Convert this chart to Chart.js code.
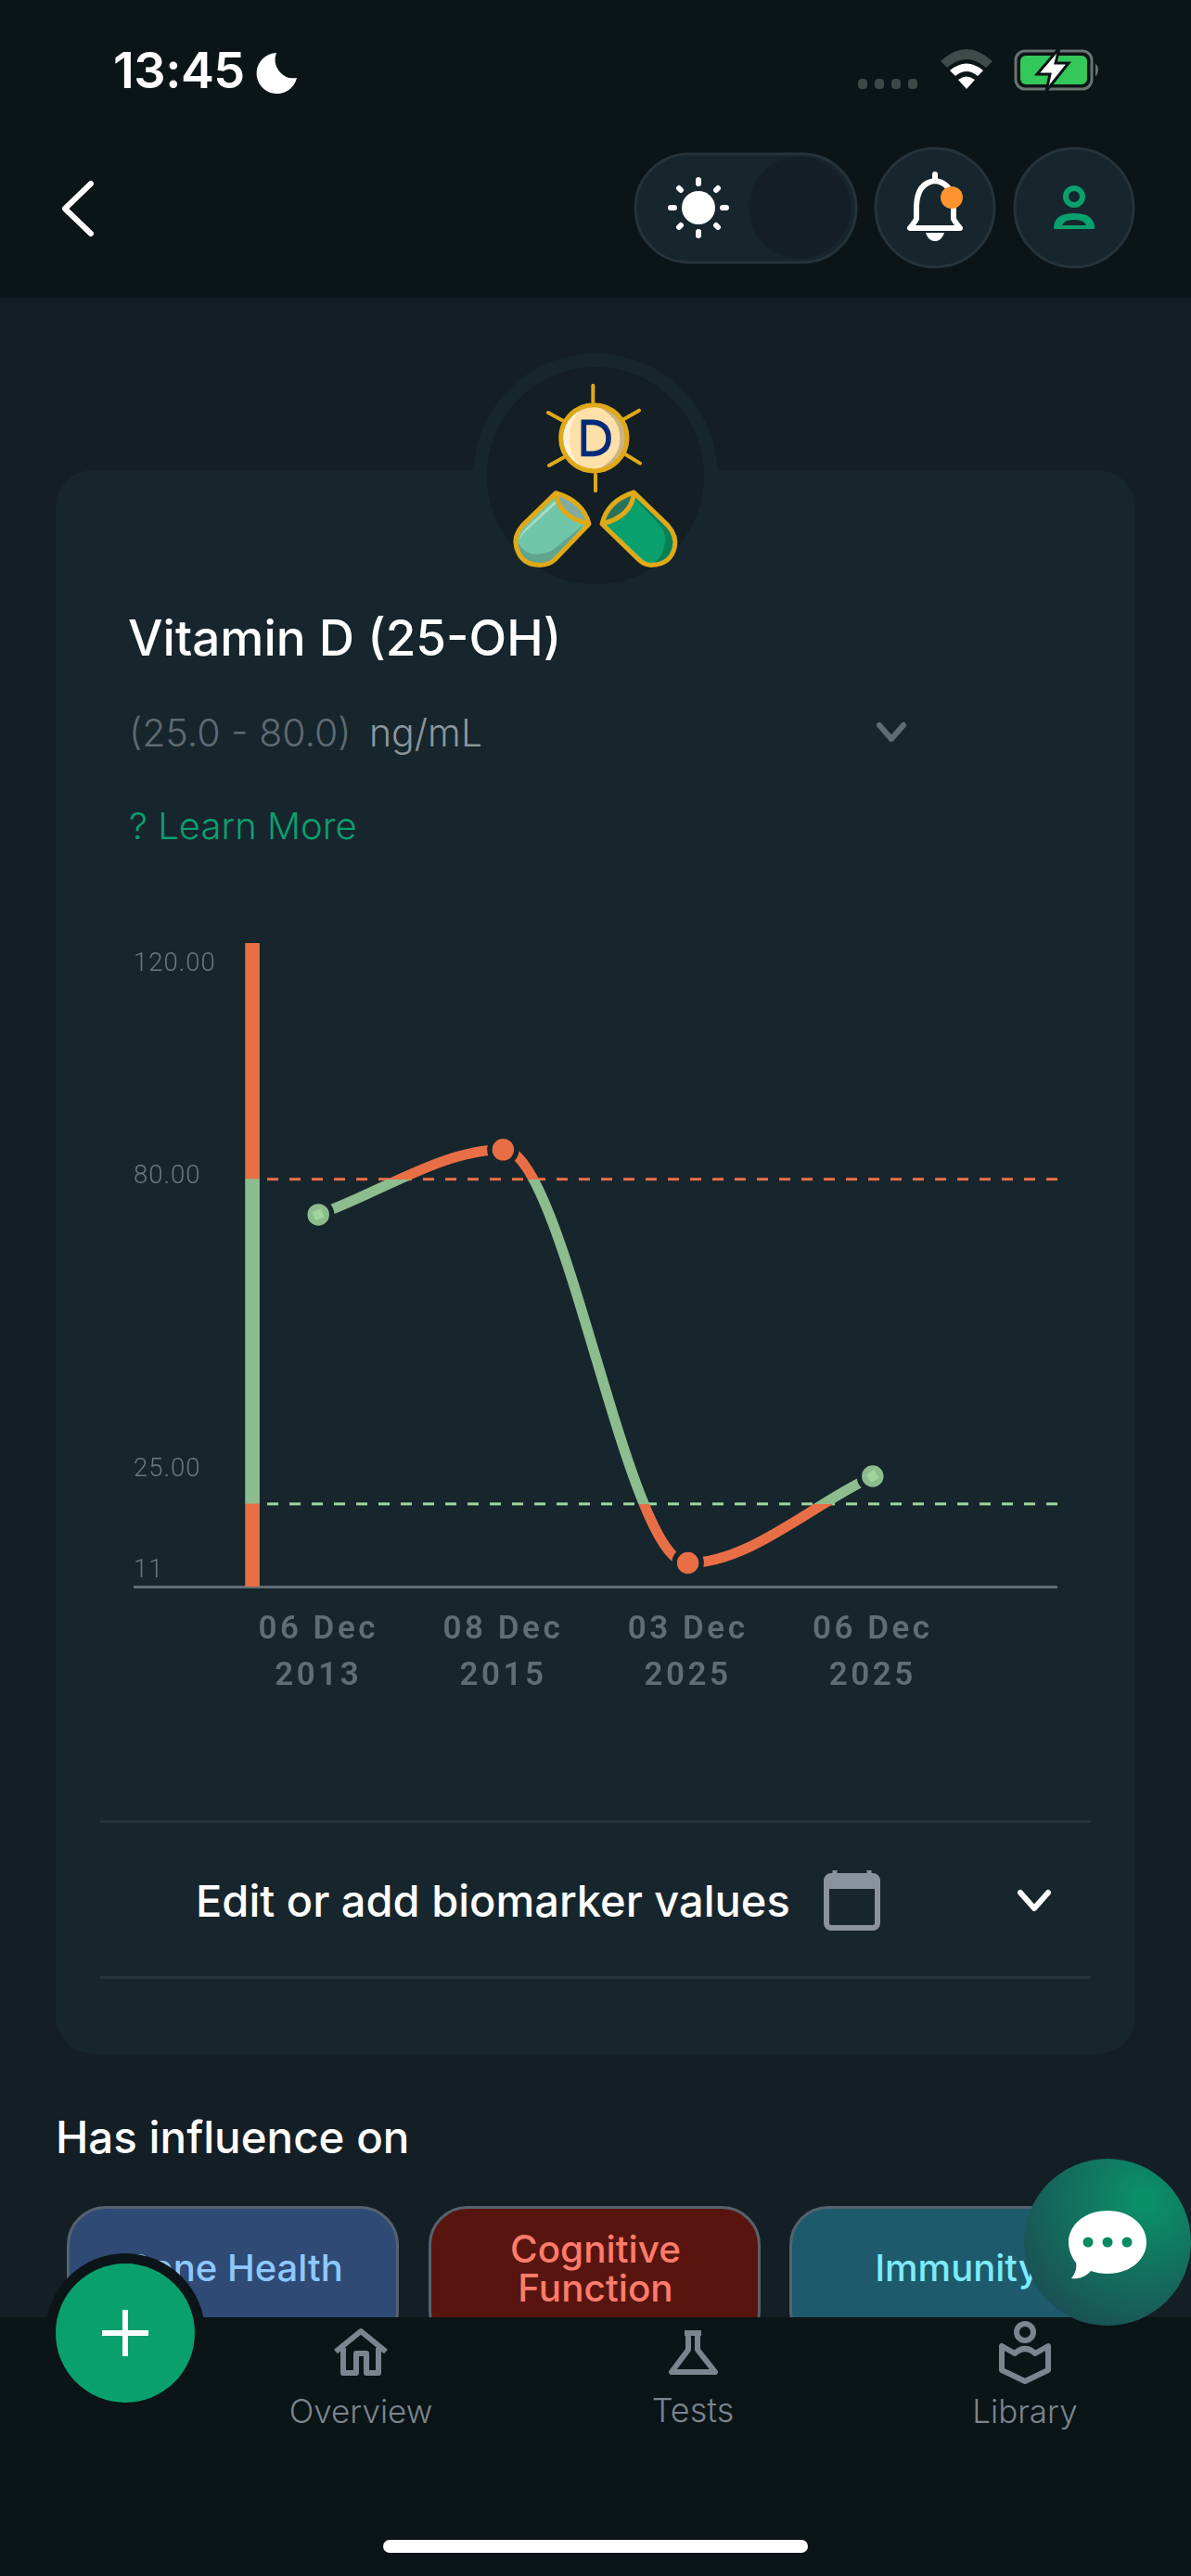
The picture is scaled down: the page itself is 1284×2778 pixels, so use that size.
<!DOCTYPE html>
<html>
<head>
<meta charset="utf-8">
<script src="https://cdn.jsdelivr.net/npm/chart.js@4"></script>
<style>
html,body{margin:0;padding:0;background:#131e25;width:1284px;height:2778px;overflow:hidden;font-family:Inter,sans-serif;}
.a{position:absolute;}
.t{position:absolute;white-space:nowrap;transform:translateY(-50%);line-height:1.2;}
.c{transform:translate(-50%,-50%);text-align:center;}
#wrap{position:absolute;left:144px;top:1000px;width:996px;height:840px;}
.chip{position:absolute;top:2379px;width:352px;height:150px;border-radius:42px;border:3px solid #56626e;}
</style>
</head>
<body>
<!-- header -->
<div class="a" style="left:0;top:0;width:1284px;height:321px;background:#0b1416"></div>
<div class="t" style="left:122px;top:76px;font-size:54px;font-weight:600;color:#fff;letter-spacing:-.5px">13:45</div>
<!-- card -->
<div class="a" style="left:60px;top:507px;width:1164px;height:1708px;border-radius:40px;background:#17252d"></div>
<div class="a" style="left:510px;top:381px;width:264px;height:264px;border-radius:50%;background:#17252d"></div>
<div class="a" style="left:525px;top:396px;width:234px;height:234px;border-radius:50%;background:#131e25"></div>
<!-- card text -->
<div class="t" style="left:138px;top:689px;font-size:53px;font-weight:500;color:#fff">Vitamin D (25-OH)</div>
<div class="t" style="left:139px;top:791px;font-size:41px;font-weight:300;color:#5f6b72">(25.0 - 80.0)</div>
<div class="t" style="left:398px;top:791px;font-size:41px;font-weight:300;color:#8d969c">ng/mL</div>
<div class="t" style="left:139px;top:891px;font-size:40px;font-weight:300;color:#0aa06e">? Learn More</div>
<div class="a" style="left:108px;top:1963px;width:1068px;height:3px;background:#25333b"></div>
<div class="a" style="left:108px;top:2131px;width:1068px;height:3px;background:#25333b"></div>
<div class="t" style="left:211px;top:2050px;font-size:47px;font-weight:500;color:#fff">Edit or add biomarker values</div>
<div class="t" style="left:60px;top:2304px;font-size:47.5px;font-weight:500;color:#fff">Has influence on</div>
<!-- chips -->
<div class="chip" style="left:72px;background:#2e4a75"></div>
<div class="chip" style="left:462px;background:#58150f"></div>
<div class="chip" style="left:851px;background:#1d5a6b"></div>
<div class="t c" style="left:253px;top:2446px;font-size:40px;font-weight:500;color:#8ec8ff">Bone Health</div>
<div class="t c" style="left:642px;top:2447px;font-size:40.5px;font-weight:500;color:#ff7b6b;line-height:42px">Cognitive<br>Function</div>
<div class="t c" style="left:1032px;top:2446px;font-size:40px;font-weight:500;color:#7eeaff">Immunity</div>
<!-- bottom nav -->
<div class="a" style="left:0;top:2499px;width:1284px;height:279px;background:#0b1416"></div>
<div class="t c" style="left:389px;top:2600px;font-size:35px;font-weight:300;color:#7c858f">Overview</div>
<div class="t c" style="left:747px;top:2600px;font-size:36px;font-weight:300;color:#7c858f">Tests</div>
<div class="t c" style="left:1105px;top:2600px;font-size:35px;font-weight:300;color:#7c858f">Library</div>
<div class="a" style="left:413px;top:2739px;width:458px;height:14px;border-radius:7px;background:#fff"></div>

<!-- icons -->
<svg class="a" style="left:0;top:0" width="1284" height="2778" viewBox="0 0 1284 2778">
  <defs>
    <radialGradient id="chat" cx="0.72" cy="0.25" r="0.85">
      <stop offset="0" stop-color="#0a9367"/><stop offset="1" stop-color="#1b4f55"/>
    </radialGradient>
  </defs>
  <!-- status -->
  <path d="M298 57 A22 22 0 1 0 320 84 A20 20 0 0 1 298 57Z" fill="#fff"/>
  <g fill="#3c4746"><rect x="925" y="85" width="10" height="11" rx="4"/><rect x="943" y="85" width="10" height="11" rx="4"/><rect x="961" y="85" width="10" height="11" rx="4"/><rect x="979" y="85" width="10" height="11" rx="4"/></g>
  <path d="M1014 66 Q1042 40 1070 66 L1063 73 Q1042 55 1021 73Z" fill="#3f4a49"/>
  <path d="M1024 76 Q1042 61 1060 76 L1054 82 Q1042 72 1030 82Z" fill="#fff"/>
  <path d="M1033 86 Q1042 79 1051 86 L1042 96Z" fill="#fff"/>
  <rect x="1095" y="55" width="82" height="41" rx="10" fill="none" stroke="#6a7372" stroke-width="3"/>
  <rect x="1100" y="60" width="72" height="31" rx="6" fill="#34c759"/>
  <path d="M1181 68 q6 7 0 15z" fill="#6a7372"/>
  <path d="M1142 52 L1118 80 L1132 80 L1128 98 L1152 68 L1138 68Z" fill="#fff" stroke="#0b1416" stroke-width="3"/>
  <!-- top bar -->
  <path d="M98 198 L70 225 L98 252" fill="none" stroke="#fff" stroke-width="6" stroke-linecap="round" stroke-linejoin="round"/>
  <rect x="685" y="166" width="238" height="117" rx="58" fill="#17252d" stroke="#25333b" stroke-width="3"/>
  <circle cx="862" cy="224" r="55" fill="#141f27"/>
  <circle cx="753" cy="224" r="18" fill="#fff"/>
  <g stroke="#fff" stroke-width="6" stroke-linecap="round">
    <path d="M753 194v4M753 250v4M723 224h4M779 224h4M732 203l2 2M772 243l2 2M774 203l-2 2M734 243l-2 2"/>
  </g>
  <circle cx="1008" cy="224" r="64" fill="#17252d" stroke="#25333b" stroke-width="3"/>
  <circle cx="1158" cy="224" r="64" fill="#17252d" stroke="#25333b" stroke-width="3"/>
  <path d="M1008 195 Q989 197 988 222 L988 236 Q986 240 981 246 L1035 246 Q1030 240 1028 236 L1028 222 Q1027 197 1008 195Z" fill="none" stroke="#fff" stroke-width="6" stroke-linejoin="round"/>
  <path d="M1008 188v7" stroke="#fff" stroke-width="6" stroke-linecap="round"/>
  <path d="M998 251 h20 q-3 9 -10 9 q-7 0 -10 -9z" fill="#fff"/>
  <circle cx="1026" cy="213" r="12" fill="#ff9330"/>
  <circle cx="1158" cy="212" r="9" fill="none" stroke="#0aa06e" stroke-width="6"/>
  <path d="M1137 246 q0 -15 21 -15 q21 0 21 15z" fill="#0aa06e" stroke="#0aa06e" stroke-width="2" stroke-linejoin="round"/>
  <path d="M1145 243 q2 -6 13 -6 q11 0 13 6z" fill="#17252d"/>

  <!-- vitamin icon, drawn in 3x coordinates -->
  <g transform="translate(530 400) scale(.33333)">
    <g stroke="#dfa917" stroke-width="12" stroke-linecap="round">
      <path d="M328 47V102M336 335V388M183 135L232 162M477 128L428 156M186 306L233 280M480 299L433 270"/>
    </g>
    <circle cx="331" cy="217" r="107" fill="#ffe0a8"/>
    <path d="M331 110 A107 107 0 0 1 331 324 Q415 290 415 217 Q415 145 331 110Z" fill="#cdb383"/>
    <path d="M300 114 A107 107 0 0 0 300 320 Q252 280 252 217 Q252 155 300 114Z" fill="#fff0d5"/>
    <circle cx="331" cy="217" r="107" fill="none" stroke="#dfa917" stroke-width="15"/>
    <path d="M298 166 H330 Q378 172 378 218 Q378 262 330 268 H298Z" fill="none" stroke="#002b7a" stroke-width="17"/>
    <!-- left capsule -->
    <path d="M208 395 L100 500 Q70 535 80 570 Q95 625 150 628 Q185 630 205 610 L315 495 Q215 470 208 395Z" fill="#6fc6a8"/>
    <path d="M85 555 Q110 600 160 592 Q190 590 210 570 L300 495 L205 610 Q185 630 150 628 Q95 625 85 555Z" fill="#5ea58e"/>
    <path d="M208 395 Q295 420 315 495 Q215 470 208 395Z" fill="#7fada2"/>
    <path d="M205 420 L110 510 Q92 530 90 548 Q100 525 120 510 L210 428Z" fill="#a9dcc9"/>
    <path d="M208 395 L100 500 Q70 535 80 570 Q95 625 150 628 Q185 630 205 610 L315 495 Q295 420 208 395 Q215 470 315 495" fill="none" stroke="#dfa917" stroke-width="15" stroke-linejoin="round"/>
    <!-- right capsule -->
    <path d="M460 393 L570 500 Q600 535 592 570 Q580 625 520 628 Q495 630 475 610 L357 495 Q455 470 460 393Z" fill="#0aa06e"/>
    <path d="M462 412 L545 500 Q570 530 558 570 Q550 605 520 625 Q580 625 592 570 Q600 535 570 500Z" fill="#078059"/>
    <path d="M375 503 L490 612 L505 620 L475 610 L362 498Z" fill="#6fc6a8"/>
    <path d="M460 393 Q375 420 357 495 Q455 470 460 393Z" fill="#26735c"/>
    <path d="M460 393 L570 500 Q600 535 592 570 Q580 625 520 628 Q495 630 475 610 L357 495 Q375 420 460 393 Q455 470 357 495" fill="none" stroke="#dfa917" stroke-width="15" stroke-linejoin="round"/>
  </g>

  <!-- card chevrons and calendar -->
  <path d="M948 782 L961 797 L974 782" fill="none" stroke="#5f6d72" stroke-width="6" stroke-linecap="round" stroke-linejoin="round"/>
  <rect x="891" y="2023" width="55" height="56" rx="5" fill="none" stroke="#8a929e" stroke-width="6"/>
  <rect x="891" y="2023" width="55" height="14" fill="#8a929e"/>
  <path d="M900 2017v8M937 2017v8" stroke="#8a929e" stroke-width="5"/>
  <path d="M1100 2041 L1115 2058 L1130 2041" fill="none" stroke="#fff" stroke-width="6" stroke-linecap="round" stroke-linejoin="round"/>

  <!-- nav icons -->
  <g fill="none" stroke="#7c858f" stroke-width="6" stroke-linejoin="round">
    <path d="M362 2536 L389 2514 L416 2536 M370 2532 V2559 H384 V2538 H395 V2559 H408 V2532"/>
    <path d="M738 2516 H756 M742 2516 V2534 L724 2558 H771 L752 2534 V2516"/>
    <circle cx="1105" cy="2515" r="9"/>
    <path d="M1080 2530 V2556 L1105 2568 L1130 2556 V2530 L1116 2538 Q1105 2528 1094 2538Z"/>
  </g>

  <!-- floating buttons -->
  <circle cx="135" cy="2516" r="86" fill="#0b1416"/>
  <circle cx="135" cy="2516" r="75" fill="#09a06d"/>
  <path d="M135 2491 V2541 M110 2516 H160" stroke="#fff" stroke-width="6"/>
  <circle cx="1194" cy="2418" r="90" fill="url(#chat)"/>
  <path d="M1194 2384 C1219 2384 1236 2400 1236 2418 C1236 2437 1218 2452 1194 2452 C1187 2452 1182 2451 1176 2449 C1170 2456 1162 2458 1155 2457 C1160 2451 1161 2445 1160 2440 C1155 2434 1152 2426 1152 2418 C1152 2400 1169 2384 1194 2384Z" fill="#fff"/>
  <g fill="#0a8a62"><circle cx="1173" cy="2418" r="5.5"/><circle cx="1194" cy="2418" r="5.5"/><circle cx="1215" cy="2418" r="5.5"/></g>
</svg>

<div id="wrap"><canvas id="chart" width="996" height="840" style="width:996px;height:840px;display:block"></canvas></div>

<script>
// ---- data ----
const dateLines = [['06 Dec','2013'],['08 Dec','2015'],['03 Dec','2025'],['06 Dec','2025']];
const vitaminD = [74, 85, 15, 29.7];
const yTickValues = [11, 25, 80, 120];
const yTickLabels = ['11', '25.00', '80.00', '120.00'];
const rangeLow = 25;
const rangeHigh = 80;
const axisMin = 11;
const axisMax = 120;

// ---- styling ----
const GREEN = '#8dbd8f', ORANGE = '#e86f45', DASH_GREEN = '#a0d69c', CARD = '#17252d';
const labelShift = {11:-17, 25:-37, 80:-3, 120:23};
const squareAngle = [-22, 0, 0, -35];
const barIndex = 0.643, dashStart = 0.723;
const xLabelDrop = 22;

const categories = [''].concat(dateLines, ['']);
const series = [null].concat(vitaminD, [null]);
const inRange = v => v !== null && v >= rangeLow && v <= rangeHigh;
const pointColor = v => inRange(v) ? GREEN : ORANGE;

function rangeGradient(ctx) {
  const c = ctx.chart, y = c.scales.y;
  if (!y || !c.chartArea) return GREEN;
  const top = y.getPixelForValue(axisMax), bot = y.getPixelForValue(axisMin);
  const g = c.ctx.createLinearGradient(0, top, 0, bot);
  const f1 = (y.getPixelForValue(rangeHigh) - top) / (bot - top);
  const f2 = (y.getPixelForValue(rangeLow) - top) / (bot - top);
  g.addColorStop(0, ORANGE); g.addColorStop(f1, ORANGE);
  g.addColorStop(f1, GREEN); g.addColorStop(f2, GREEN);
  g.addColorStop(f2, ORANGE); g.addColorStop(1, ORANGE);
  return g;
}

function spaced(scale, spacing) {
  if (scale._spaced) return;
  scale._spaced = true;
  const orig = scale.drawLabels;
  scale.drawLabels = function (area) {
    const ctx = this.ctx;
    ctx.letterSpacing = spacing;
    orig.call(this, area);
    ctx.letterSpacing = '0px';
  };
}

const tickNudge = {
  id: 'tickNudge',
  afterLayout(chart) {
    const sy = chart.scales.y, sx = chart.scales.x;
    sy._labelItems = null; sx._labelItems = null;
    sy.getLabelItems().forEach((it, i) => { it.options.translation[1] += labelShift[yTickValues[i]]; });
    sx.getLabelItems().forEach(it => { it.options.translation[1] += xLabelDrop; });
    spaced(sy, '1px');
    spaced(sx, '3.5px');
  }
};

new Chart(document.getElementById('chart').getContext('2d'), {
  data: {
    labels: categories,
    datasets: [
      {type:'line', order:1, data:series, xAxisID:'x', yAxisID:'y', showLine:false,
        pointStyle:'rect', rotation:c=>squareAngle[c.dataIndex-1]||0,
        pointRadius:c=>inRange(c.raw)?7:0, pointBackgroundColor:DASH_GREEN, pointBorderWidth:0},
      {type:'line', order:2, data:series, xAxisID:'x', yAxisID:'y',
        cubicInterpolationMode:'monotone', borderWidth:11, borderColor:rangeGradient, spanGaps:false,
        pointRadius:14.5, pointBorderWidth:5.5, pointBorderColor:CARD,
        pointBackgroundColor:c=>pointColor(c.raw)},
      {type:'line', order:3, data:[{x:dashStart,y:rangeHigh},{x:categories.length-1,y:rangeHigh}],
        xAxisID:'x2', yAxisID:'y', borderColor:ORANGE, borderWidth:3, borderDash:[12,12], pointRadius:0},
      {type:'line', order:3, data:[{x:dashStart,y:rangeLow},{x:categories.length-1,y:rangeLow}],
        xAxisID:'x2', yAxisID:'y', borderColor:DASH_GREEN, borderWidth:3, borderDash:[12,12], pointRadius:0},
      {type:'bar', order:5, grouped:false, data:[{x:barIndex,y:[axisMin,rangeLow]}], xAxisID:'x2', yAxisID:'y', backgroundColor:ORANGE, barThickness:15, borderWidth:0},
      {type:'bar', order:5, grouped:false, data:[{x:barIndex,y:[rangeLow,rangeHigh]}], xAxisID:'x2', yAxisID:'y', backgroundColor:GREEN, barThickness:15, borderWidth:0},
      {type:'bar', order:5, grouped:false, data:[{x:barIndex,y:[rangeHigh,axisMax]}], xAxisID:'x2', yAxisID:'y', backgroundColor:ORANGE, barThickness:15, borderWidth:0}
    ]
  },
  options: {
    responsive:false, animation:false, devicePixelRatio:1,
    layout:{padding:{top:17,left:0,right:0,bottom:0}, autoPadding:false},
    plugins:{legend:{display:false}, tooltip:{enabled:false}},
    scales:{
      x:{type:'category', position:'bottom', grid:{display:false, drawTicks:false},
        border:{display:true, color:'#5f6e72', width:3},
        afterFit(s){ s.height = 129; },
        ticks:{autoSkip:false, maxRotation:0, minRotation:0, padding:0,
          color:'#5f6e75', font:{family:'Roboto', size:35, weight:'600', lineHeight:50/35}}},
      x2:{type:'linear', display:false, min:0, max:categories.length-1, offset:false},
      y:{type:'linear', position:'left', min:axisMin, max:axisMax,
        grid:{display:false, drawTicks:false}, border:{display:false},
        afterBuildTicks(s){ s.ticks = yTickValues.map(v=>({value:v})); },
        ticks:{mirror:true, padding:0, color:'#6b7780',
          font:{family:'Roboto', size:27.5, weight:'300'},
          callback:v=>yTickLabels[yTickValues.indexOf(v)]}}
    }
  },
  plugins:[tickNudge]
});
</script>
</body>
</html>
